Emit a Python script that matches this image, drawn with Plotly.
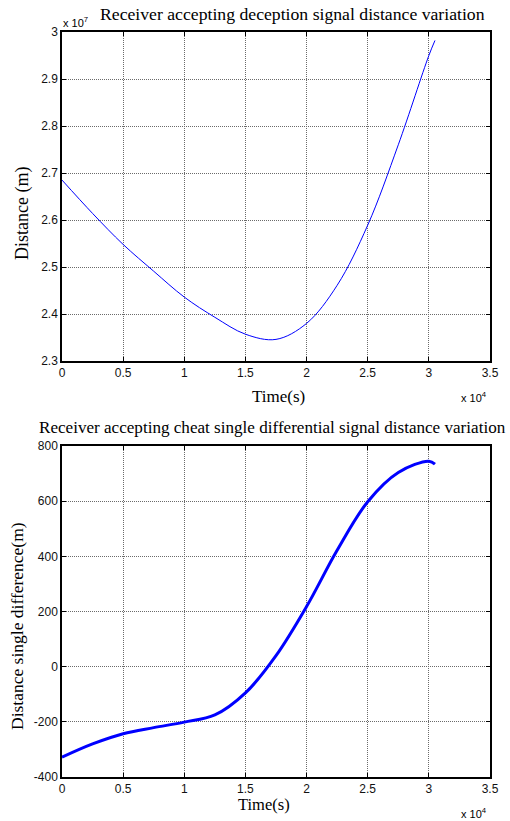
import plotly.graph_objects as go

# ---- data ----
time_top_s = [0, 2500, 5000, 7500, 10000, 12500, 15000, 17500,
              20000, 22500, 25000, 27500, 30000, 30500]
distance_m = [2.685e7, 2.614e7, 2.548e7, 2.491e7, 2.436e7, 2.393e7, 2.357e7,
              2.346e7, 2.380e7, 2.461e7, 2.589e7, 2.760e7, 2.950e7, 2.982e7]

time_bot_s = [0, 2500, 5000, 7500, 10000, 12500, 15000, 17500,
              20000, 22500, 25000, 27500, 30000, 30500]
single_diff_m = [-328, -280, -243, -221, -201, -175, -95, 40,
                 218, 422, 598, 704, 745, 734]

x_tickvals = [0, 5000, 10000, 15000, 20000, 25000, 30000, 35000]
x_ticktext = ["0", "0.5", "1", "1.5", "2", "2.5", "3", "3.5"]
y1_tickvals = [2.3e7, 2.4e7, 2.5e7, 2.6e7, 2.7e7, 2.8e7, 2.9e7, 3.0e7]
y1_ticktext = ["2.3", "2.4", "2.5", "2.6", "2.7", "2.8", "2.9", "3"]
y2_tickvals = [-400, -200, 0, 200, 400, 600, 800]
y2_ticktext = ["-400", "-200", "0", "200", "400", "600", "800"]

title_top = "Receiver accepting deception signal distance variation"
title_bot = "Receiver accepting cheat single differential signal distance variation"

# ---- layout geometry ----
W, H = 510, 821
ML, MR, MT, MB = 62, 20, 32, 44
PW = W - ML - MR
PH = H - MT - MB


def px(x):
    return (x - ML) / PW


def py(y):
    return (H - MB - y) / PH


SERIF = "Liberation Serif, Times New Roman, serif"
SANS = "Liberation Sans, Arial, sans-serif"

fig = go.Figure()
fig.add_trace(go.Scatter(x=time_top_s, y=distance_m, mode="lines",
                         line=dict(color="#0000ff", width=1, shape="spline", smoothing=1.0),
                         xaxis="x", yaxis="y", showlegend=False))
fig.add_trace(go.Scatter(x=time_bot_s, y=single_diff_m, mode="lines",
                         line=dict(color="#0000ff", width=3, shape="spline", smoothing=1.0),
                         xaxis="x2", yaxis="y2", showlegend=False))

axis_common = dict(showline=True, linecolor="black", linewidth=1.5, mirror="ticks",
                   ticks="inside", ticklen=4, tickcolor="black",
                   showgrid=True, gridcolor="#6a6a6a", griddash="1px,1px", gridwidth=1,
                   zeroline=False, tickfont=dict(family=SANS, size=12, color="#111"))

fig.update_layout(
    width=W, height=H,
    margin=dict(l=ML, r=MR, t=MT, b=MB),
    paper_bgcolor="white", plot_bgcolor="white",
    xaxis=dict(domain=[0, 1], anchor="y", range=[0, 35000],
               tickvals=x_tickvals, ticktext=x_ticktext, **axis_common),
    yaxis=dict(domain=[py(361), py(32)], anchor="x", range=[2.3e7, 3.0e7],
               tickvals=y1_tickvals, ticktext=y1_ticktext, **axis_common),
    xaxis2=dict(domain=[0, 1], anchor="y2", range=[0, 35000],
                tickvals=x_tickvals, ticktext=x_ticktext, **axis_common),
    yaxis2=dict(domain=[py(777), py(446)], anchor="x2", range=[-400, 800],
                tickvals=y2_tickvals, ticktext=y2_ticktext, **axis_common),
)

ann = []


def add(text, x, y, size, family, xanchor="center", textangle=0):
    ann.append(dict(text=text, x=px(x), y=py(y), xref="paper", yref="paper",
                    xanchor=xanchor, yanchor="middle", showarrow=False,
                    textangle=textangle, font=dict(family=family, size=size, color="black")))


add(title_top, 292, 14, 17.7, SERIF)
add("x 10<sup>7</sup>", 61, 22, 11, SANS, xanchor="left")
add("Distance (m)", 22, 214, 18, SERIF, textangle=-90)
add("Time(s)", 278, 397, 17, SERIF)
add("x 10<sup>4</sup>", 459, 397, 11, SANS, xanchor="left")

add(title_bot, 272, 427, 17.1, SERIF)
add("Distance single difference(m)", 17, 626, 17.5, SERIF, textangle=-90)
add("Time(s)", 264, 804, 16.5, SERIF)
add("x 10<sup>4</sup>", 459, 813, 11, SANS, xanchor="left")

fig.update_layout(annotations=ann)

fig.write_html("out.html")
